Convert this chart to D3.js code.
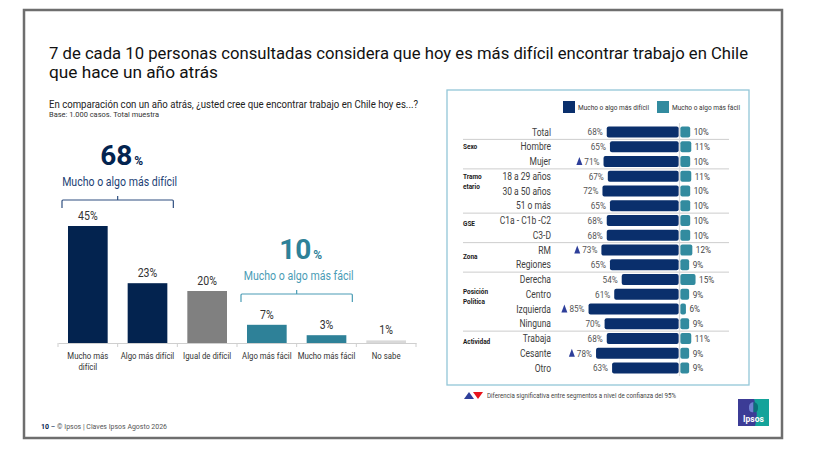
<!DOCTYPE html>
<html>
<head>
<meta charset="utf-8">
<script src="https://cdn.jsdelivr.net/npm/d3@7"></script>
<style>
  body { margin: 0; background: #fff; }
  svg { display: block; }
  text { font-family: "Roboto", sans-serif; }
</style>
</head>
<body>
<div id="chart"></div>
<script>
// left chart data
const categories = ["Mucho más difícil", "Algo más difícil", "Igual de difícil", "Algo más fácil", "Mucho más fácil", "No sabe"];
const categoryLabels = [["Mucho más", "difícil"], ["Algo más difícil"], ["Igual de difícil"], ["Algo más fácil"], ["Mucho más fácil"], ["No sabe"]];
const shares = [45, 23, 20, 7, 3, 1];
const summaryValues = [68, 10];
const summaryLabels = ["Mucho o algo más difícil", "Mucho o algo más fácil"];
const summaryFrom = [0, 3];
const summaryTo = [1, 4];

// right panel data
const segments = ["Total", "Hombre", "Mujer", "18 a 29 años", "30 a 50 años", "51 o más", "C1a - C1b -C2", "C3-D", "RM", "Regiones", "Derecha", "Centro", "Izquierda", "Ninguna", "Trabaja", "Cesante", "Otro"];
const harder = [68, 65, 71, 67, 72, 65, 68, 68, 73, 65, 54, 61, 85, 70, 68, 78, 63];
const easier = [10, 11, 10, 11, 10, 10, 10, 10, 12, 9, 15, 9, 6, 9, 11, 9, 9];
const significant = [false, false, true, false, false, false, false, false, true, false, false, false, true, false, false, true, false];
const groupNames = [["Sexo"], ["Tramo", "etario"], ["GSE"], ["Zona"], ["Posición", "Política"], ["Actividad"]];
const groupFirst = [1, 3, 6, 8, 10, 14];
const legendLabels = ["Mucho o algo más difícil", "Mucho o algo más fácil"];

const navy = "#03234f", navy2 = "#0a2f6c", teal = "#2e8198", teal2 = "#328b9f";
const barColors = [navy, navy, "#808080", teal, teal, "#d9d9d9"];

// no condensed font installed: squeeze text horizontally
const K = 0.84;
function condense(sel, k) {
    sel.each(function () {
        const w = this.getComputedTextLength();
        d3.select(this).attr("textLength", w * (k || K)).attr("lengthAdjust", "spacingAndGlyphs");
    });
}

const W = 816, H = 461;
const svg = d3.select("#chart").append("svg")
    .attr("width", W)
    .attr("height", H);

// slide frame
svg.append("rect")
    .attr("x", 24).attr("y", 10)
    .attr("width", 758).attr("height", 428)
    .attr("fill", "#fff")
    .attr("stroke", "#6e6e6e")
    .attr("stroke-width", 2.5);

// title
svg.append("text").attr("x", 49).attr("y", 59)
    .attr("font-size", 17).attr("fill", "#111")
    .attr("textLength", 699).attr("lengthAdjust", "spacingAndGlyphs")
    .text("7 de cada 10 personas consultadas considera que hoy es más difícil encontrar trabajo en Chile");
svg.append("text").attr("x", 49).attr("y", 78)
    .attr("font-size", 17).attr("fill", "#111")
    .attr("textLength", 169).attr("lengthAdjust", "spacingAndGlyphs")
    .text("que hace un año atrás");

// question
svg.append("text").attr("x", 49).attr("y", 108)
    .attr("font-size", 11).attr("fill", "#222")
    .attr("textLength", 369).attr("lengthAdjust", "spacingAndGlyphs")
    .text("En comparación con un año atrás, ¿usted cree que encontrar trabajo en Chile hoy es...?");
svg.append("text").attr("x", 49).attr("y", 117)
    .attr("font-size", 7.5).attr("fill", "#333")
    .attr("textLength", 110).attr("lengthAdjust", "spacingAndGlyphs")
    .text("Base: 1.000 casos. Total muestra");

// ---------- left bar chart ----------
const x = d3.scaleBand()
    .domain(categories)
    .range([58, 416])
    .paddingInner(0.335)
    .paddingOuter(0.1675);

const y = d3.scaleLinear()
    .domain([0, 45])
    .range([343, 226]);

const left = svg.append("g");

left.selectAll("rect.bar")
    .data(shares)
    .enter()
    .append("rect")
    .attr("class", "bar")
    .attr("x", (d, i) => x(categories[i]))
    .attr("y", d => y(d))
    .attr("width", x.bandwidth())
    .attr("height", d => y(0) - y(d))
    .attr("fill", (d, i) => barColors[i]);

left.selectAll("text.val")
    .data(shares)
    .enter()
    .append("text")
    .attr("class", "val")
    .attr("x", (d, i) => x(categories[i]) + x.bandwidth() / 2)
    .attr("y", d => y(d) - 6)
    .attr("text-anchor", "middle")
    .attr("font-size", 12)
    .attr("fill", "#333")
    .text(d => d + "%")
    .call(condense, 0.88);

// axis line with ticks at band edges
const axis = left.append("g")
    .attr("transform", `translate(0, ${y(0)})`)
    .call(d3.axisBottom(x).tickSize(0).tickFormat(""));
axis.select(".domain").attr("stroke", "#cfcfcf");
const gap = x.step() * x.paddingInner() / 2;
const edges = categories.map(c => x(c) - gap).concat([x(categories[categories.length - 1]) + x.bandwidth() + gap]);
axis.selectAll("line.edge")
    .data(edges)
    .enter()
    .append("line")
    .attr("class", "edge")
    .attr("x1", d => d).attr("x2", d => d)
    .attr("y1", 0).attr("y2", 4)
    .attr("stroke", "#cfcfcf");

categoryLabels.forEach((lines, i) => {
    const cx = x(categories[i]) + x.bandwidth() / 2;
    lines.forEach((l, j) => {
        left.append("text")
            .attr("x", cx)
            .attr("y", y(0) + 16 + j * 10.5)
            .attr("text-anchor", "middle")
            .attr("font-size", 9.5)
            .attr("fill", "#333")
            .text(l)
            .call(condense, 0.82);
    });
});

// summary brackets
const bracketY = [200, 294];
const numColor = [navy, teal];
const labColor = ["#1d3f75", "#4a9cb5"];
const brColor = ["#2f4f80", "#4a9cb5"];
summaryValues.forEach((v, i) => {
    const x0 = x(categories[summaryFrom[i]]) - gap / 2 - 1;
    const x1 = x(categories[summaryTo[i]]) + x.bandwidth() + gap / 2 + 1;
    const cx = (x0 + x1) / 2;
    const by = bracketY[i];
    left.append("path")
        .attr("d", `M${x0},${by + 8} L${x0},${by + 1} Q${x0},${by} ${x0 + 1},${by} L${x1 - 1},${by} Q${x1},${by} ${x1},${by + 1} L${x1},${by + 8} M${cx},${by} L${cx},${by - 4}`)
        .attr("fill", "none")
        .attr("stroke", brColor[i])
        .attr("stroke-width", 1.2);
    left.append("text")
        .attr("x", cx + 2)
        .attr("y", by - 14)
        .attr("text-anchor", "middle")
        .attr("font-size", 12)
        .attr("fill", labColor[i])
        .attr("textLength", i === 0 ? 115 : 110)
        .attr("lengthAdjust", "spacingAndGlyphs")
        .text(summaryLabels[i]);
    // big number and its % sign as two texts, centred together
    const num = left.append("text")
        .attr("y", by - 35.5)
        .attr("font-size", 28)
        .attr("font-weight", "bold")
        .attr("fill", numColor[i])
        .text(v);
    const pct = left.append("text")
        .attr("y", by - 35.5)
        .attr("font-size", 12)
        .attr("font-weight", "bold")
        .attr("fill", numColor[i])
        .text("%");
    const wN = num.node().getComputedTextLength();
    const wP = pct.node().getComputedTextLength();
    const start = cx + 4 - (wN + wP + 2) / 2;
    num.attr("x", start);
    pct.attr("x", start + wN + 2);
});

// ---------- right panel ----------
const panel = svg.append("g");
panel.append("rect")
    .attr("x", 447).attr("y", 90)
    .attr("width", 302).attr("height", 295)
    .attr("fill", "#fff")
    .attr("stroke", "#93c6d8")
    .attr("stroke-width", 1.3);

// legend
const legendColors = [navy2, teal2];
const legendX = [563, 657];
const legendW = [71, 68];
legendLabels.forEach((l, i) => {
    panel.append("rect")
        .attr("x", legendX[i]).attr("y", 101)
        .attr("width", 12).attr("height", 12)
        .attr("fill", legendColors[i]);
    panel.append("text")
        .attr("x", legendX[i] + 15).attr("y", 109.5)
        .attr("font-size", 7.5).attr("fill", "#333")
        .attr("textLength", legendW[i]).attr("lengthAdjust", "spacingAndGlyphs")
        .text(l);
});

const rowY = d3.scalePoint()
    .domain(segments)
    .range([132, 368]);

const xr = d3.scaleLinear().domain([0, 100]).range([0, 107]);
const mid = 679.5;

// separators between groups
const sepAfter = groupFirst.map(f => f - 1);
panel.selectAll("line.sep")
    .data(sepAfter)
    .enter()
    .append("line")
    .attr("class", "sep")
    .attr("x1", 463).attr("x2", 729)
    .attr("y1", d => (rowY(segments[d]) + rowY(segments[d + 1])) / 2)
    .attr("y2", d => (rowY(segments[d]) + rowY(segments[d + 1])) / 2)
    .attr("stroke", "#cdcdcd")
    .attr("stroke-width", 1);

// group labels
const groupShift = [0, 0, 0.2, 0.47, 0.8, 0.2];
const rowStep = rowY.step();
groupNames.forEach((lines, i) => {
    const cy = rowY(segments[groupFirst[i]]) + groupShift[i] * rowStep;
    lines.forEach((l, j) => {
        panel.append("text")
            .attr("x", 463)
            .attr("y", cy + 2.5 + j * 10)
            .attr("font-size", 7)
            .attr("font-weight", "bold")
            .attr("fill", "#1a1a1a")
            .text(l)
            .call(condense, 0.92);
    });
});

// row labels
panel.selectAll("text.seg")
    .data(segments)
    .enter()
    .append("text")
    .attr("class", "seg")
    .attr("x", 551)
    .attr("y", d => rowY(d) + 3.5)
    .attr("text-anchor", "end")
    .attr("font-size", 10)
    .attr("fill", "#404040")
    .text(d => d)
    .call(condense, 0.85);

// bars
panel.selectAll("rect.hard")
    .data(harder)
    .enter()
    .append("rect")
    .attr("class", "hard")
    .attr("x", d => mid - xr(d))
    .attr("y", (d, i) => rowY(segments[i]) - 5.5)
    .attr("width", d => xr(d) - 0.8)
    .attr("height", 11)
    .attr("rx", 2)
    .attr("fill", navy2);

panel.selectAll("rect.easy")
    .data(easier)
    .enter()
    .append("rect")
    .attr("class", "easy")
    .attr("x", mid + 0.8)
    .attr("y", (d, i) => rowY(segments[i]) - 5.5)
    .attr("width", d => xr(d) - 0.8)
    .attr("height", 11)
    .attr("rx", 2)
    .attr("fill", teal2);

panel.append("line")
    .attr("x1", mid).attr("x2", mid)
    .attr("y1", 123).attr("y2", 376)
    .attr("stroke", "#dcdcdc")
    .attr("stroke-width", 1.2);

// value labels
const hardWidths = [];
panel.selectAll("text.hv")
    .data(harder)
    .enter()
    .append("text")
    .attr("class", "hv")
    .attr("x", d => mid - xr(d) - 4)
    .attr("y", (d, i) => rowY(segments[i]) + 3.3)
    .attr("text-anchor", "end")
    .attr("font-size", 9.5)
    .attr("fill", "#555")
    .text(d => d + "%")
    .each(function () { hardWidths.push(this.getComputedTextLength() * 0.86); })
    .call(condense, 0.86);

panel.selectAll("text.ev")
    .data(easier)
    .enter()
    .append("text")
    .attr("class", "ev")
    .attr("x", d => mid + xr(d) + 3.5)
    .attr("y", (d, i) => rowY(segments[i]) + 3.3)
    .attr("font-size", 9.5)
    .attr("fill", "#444")
    .text(d => d + "%")
    .call(condense, 0.86);

// significance markers
harder.forEach((d, i) => {
    if (!significant[i]) return;
    const right = mid - xr(d) - 4 - hardWidths[i] - 2;
    const cy = rowY(segments[i]);
    panel.append("path")
        .attr("d", `M${right - 6},${cy + 3.5} L${right},${cy + 3.5} L${right - 3},${cy - 4.5} Z`)
        .attr("fill", "#2e3f9a");
});

// footnote
svg.append("path").attr("d", "M464,399 L474,399 L469,392 Z").attr("fill", "#2e3f9a");
svg.append("path").attr("d", "M473,392 L483,392 L478,399 Z").attr("fill", "#e8141c");
svg.append("text").attr("x", 487).attr("y", 398)
    .attr("font-size", 6.5).attr("fill", "#444")
    .attr("textLength", 189).attr("lengthAdjust", "spacingAndGlyphs")
    .text("Diferencia significativa entre segmentos a nivel de confianza del 95%");

// page footer
const foot = svg.append("text").attr("x", 41).attr("y", 429).attr("font-size", 7.5).attr("fill", "#555")
    .attr("textLength", 126).attr("lengthAdjust", "spacingAndGlyphs");
foot.append("tspan").attr("font-weight", "bold").attr("fill", navy).text("10");
foot.append("tspan").attr("fill", navy).text(" – ");
foot.append("tspan").text(" © Ipsos | Claves Ipsos Agosto 2026");

// logo
const logo = svg.append("g").attr("transform", "translate(738,399)");
logo.append("rect").attr("width", 31).attr("height", 27).attr("fill", "#3c3c96");
logo.append("path").attr("d", "M16,0 L31,0 L31,27 L17,27 Q21,14 16,0 Z").attr("fill", "#14a39a");
logo.append("path").attr("d", "M15.5,3 Q10,4 11,10 Q12,14 15.5,13 Z").attr("fill", "#6f7fd0");
logo.append("path").attr("d", "M15.5,3 Q21,4 20,10 Q19,14 15.5,13 Z").attr("fill", "#0b6f78");
logo.append("text").attr("x", 15.5).attr("y", 23)
    .attr("text-anchor", "middle")
    .attr("font-size", 8.5).attr("font-weight", "bold").attr("fill", "#fff")
    .text("Ipsos");
</script>
</body>
</html>
